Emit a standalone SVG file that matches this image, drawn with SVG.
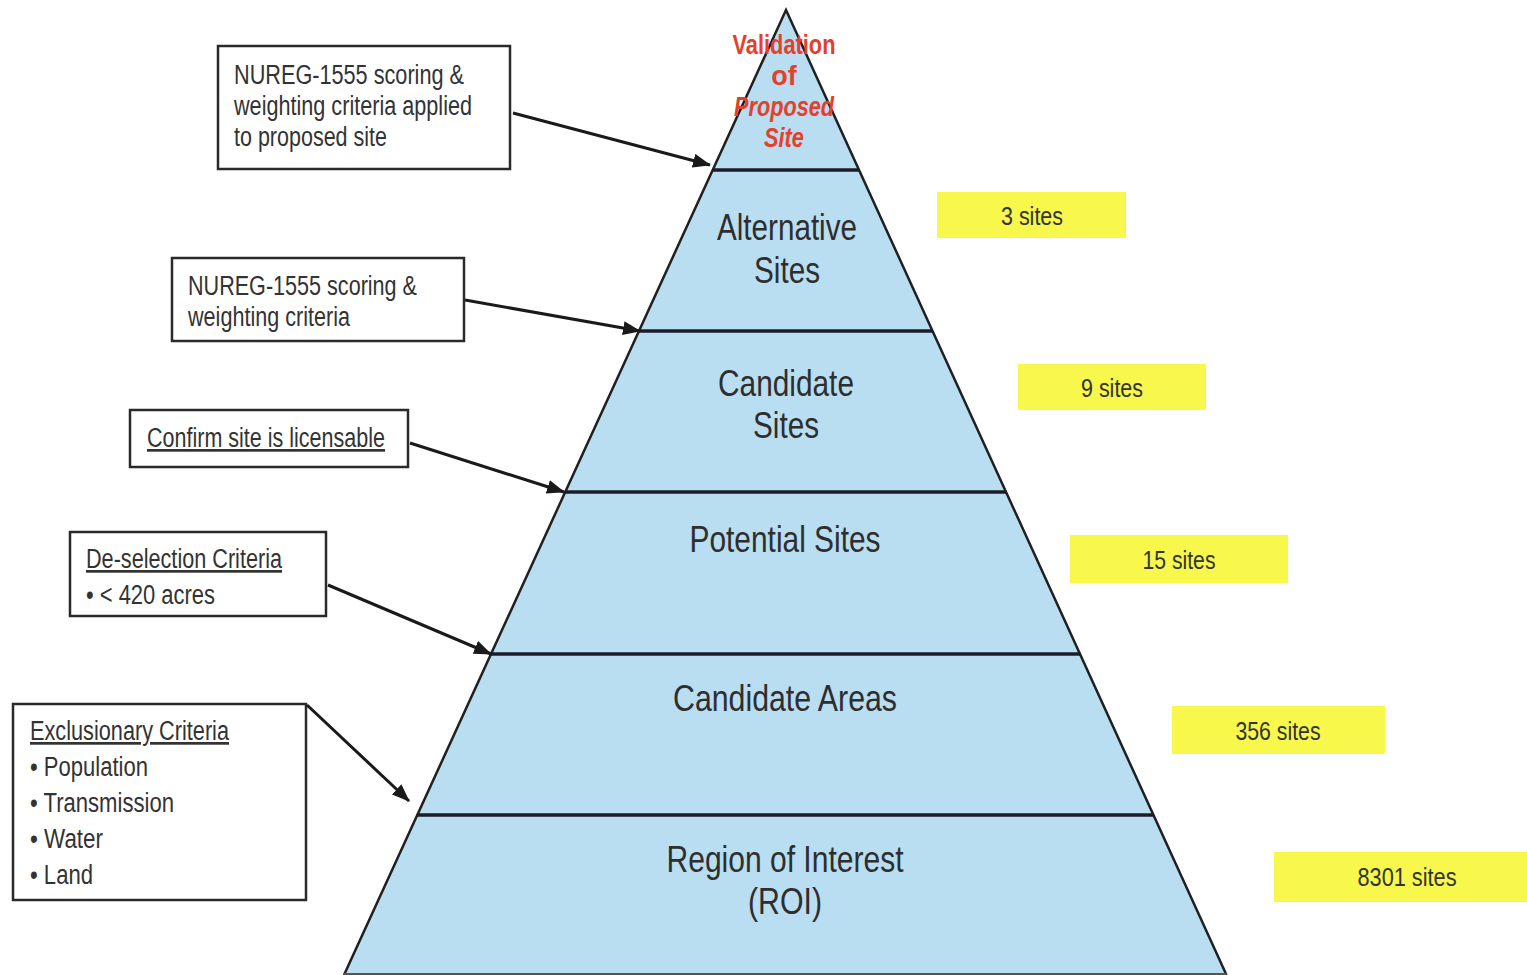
<svg xmlns="http://www.w3.org/2000/svg" width="1527" height="975" viewBox="0 0 1527 975">
<defs>
<marker id="ah" markerWidth="18" markerHeight="14" refX="17" refY="7" orient="auto" markerUnits="userSpaceOnUse">
<path d="M0,0 L18,7 L0,14 Z" fill="#1a1a1a"/>
</marker>
<style>
.box{fill:#fff;stroke:#2a2a2a;stroke-width:2.5}
.t{font-family:"Liberation Sans",Arial,sans-serif;font-size:27px;fill:#333}
.u{text-decoration:underline}
.tier{fill:#b9ddf1;stroke:none}
.pl{font-family:"Liberation Sans",Arial,sans-serif;font-size:36px;fill:#2e2e2e;text-anchor:middle}
.red{font-family:"Liberation Sans",Arial,sans-serif;font-size:27px;font-weight:bold;fill:#e4402c;text-anchor:middle}
.yl{fill:#f7f74c}
.yt{font-family:"Liberation Sans",Arial,sans-serif;font-size:25px;fill:#333;text-anchor:middle}
.side{stroke:#202020;stroke-width:2.5;fill:none}
.div{stroke:#1c1c28;stroke-width:3.5}
.conn{stroke:#1a1a1a;stroke-width:3;fill:none;marker-end:url(#ah)}
</style>
</defs>
<rect width="1527" height="975" fill="#fff"/>

<g id="pyramid">
<g id="tier-validation">
<polygon class="tier" points="786,10 712.6,170 859.1,170"/>
</g>
<g id="tier-alternative">
<polygon class="tier" points="712.6,170 859.1,170 932.7,331 638.8,331"/>
<text class="pl" x="787" y="240" textLength="140" lengthAdjust="spacingAndGlyphs">Alternative</text>
<text class="pl" x="787" y="283" textLength="66" lengthAdjust="spacingAndGlyphs">Sites</text>
</g>
<g id="tier-candidate-sites">
<polygon class="tier" points="638.8,331 932.7,331 1006.3,492 565,492"/>
<text class="pl" x="786" y="396" textLength="136" lengthAdjust="spacingAndGlyphs">Candidate</text>
<text class="pl" x="786" y="438" textLength="66" lengthAdjust="spacingAndGlyphs">Sites</text>
</g>
<g id="tier-potential">
<polygon class="tier" points="565,492 1006.3,492 1080.3,654 490.7,654"/>
<text class="pl" x="785" y="552" textLength="191" lengthAdjust="spacingAndGlyphs">Potential Sites</text>
</g>
<g id="tier-candidate-areas">
<polygon class="tier" points="490.7,654 1080.3,654 1153.9,815 416.9,815"/>
<text class="pl" x="785" y="711" textLength="224" lengthAdjust="spacingAndGlyphs">Candidate Areas</text>
</g>
<g id="tier-roi">
<polygon class="tier" points="416.9,815 1153.9,815 1226.5,975 344,975"/>
<text class="pl" x="785" y="872" textLength="237" lengthAdjust="spacingAndGlyphs">Region of Interest</text>
<text class="pl" x="785" y="914" textLength="74" lengthAdjust="spacingAndGlyphs">(ROI)</text>
</g>
<polyline class="side" points="344,975 786,10 1226.5,975"/>
<line class="div" x1="712.6" y1="170" x2="859.1" y2="170"/>
<line class="div" x1="638.8" y1="331" x2="932.7" y2="331"/>
<line class="div" x1="565" y1="492" x2="1006.3" y2="492"/>
<line class="div" x1="490.7" y1="654" x2="1080.3" y2="654"/>
<line class="div" x1="416.9" y1="815" x2="1153.9" y2="815"/>
<line stroke="#555" stroke-width="2" x1="344" y1="974" x2="1226.5" y2="974"/>
<g id="validation-label">
<text class="red" x="784" y="54" textLength="103" lengthAdjust="spacingAndGlyphs">Validation</text>
<text class="red" x="784" y="85">of</text>
<text class="red" x="784" y="116" font-style="italic" textLength="100" lengthAdjust="spacingAndGlyphs">Proposed</text>
<text class="red" x="784" y="147" font-style="italic" textLength="40" lengthAdjust="spacingAndGlyphs">Site</text>
</g>
</g>

<g id="box-nureg-applied">
<rect class="box" x="218" y="46" width="292" height="123"/>
<text class="t" x="234" y="84" textLength="230" lengthAdjust="spacingAndGlyphs">NUREG-1555 scoring &amp;</text>
<text class="t" x="234" y="115" textLength="238" lengthAdjust="spacingAndGlyphs">weighting criteria applied</text>
<text class="t" x="234" y="146" textLength="153" lengthAdjust="spacingAndGlyphs">to proposed site</text>
</g>
<g id="box-nureg">
<rect class="box" x="172" y="258" width="292" height="83"/>
<text class="t" x="188" y="295" textLength="229" lengthAdjust="spacingAndGlyphs">NUREG-1555 scoring &amp;</text>
<text class="t" x="188" y="326" textLength="162" lengthAdjust="spacingAndGlyphs">weighting criteria</text>
</g>
<g id="box-licensable">
<rect class="box" x="130" y="410" width="278" height="57"/>
<text class="t u" x="147" y="447" textLength="238" lengthAdjust="spacingAndGlyphs">Confirm site is licensable</text>
</g>
<g id="box-deselection">
<rect class="box" x="70" y="532" width="256" height="84"/>
<text class="t u" x="86" y="568" textLength="196" lengthAdjust="spacingAndGlyphs">De-selection Criteria</text>
<text class="t" x="86" y="604" textLength="129" lengthAdjust="spacingAndGlyphs">• &lt; 420 acres</text>
</g>
<g id="box-exclusionary">
<rect class="box" x="13" y="704" width="293" height="196"/>
<text class="t u" x="30" y="740" textLength="199" lengthAdjust="spacingAndGlyphs">Exclusionary Criteria</text>
<text class="t" x="30" y="776" textLength="118" lengthAdjust="spacingAndGlyphs">• Population</text>
<text class="t" x="30" y="812" textLength="144" lengthAdjust="spacingAndGlyphs">• Transmission</text>
<text class="t" x="30" y="848" textLength="73" lengthAdjust="spacingAndGlyphs">• Water</text>
<text class="t" x="30" y="884" textLength="63" lengthAdjust="spacingAndGlyphs">• Land</text>
</g>

<g id="count-3">
<rect class="yl" x="937" y="192" width="189" height="46"/>
<text class="yt" x="1032" y="225" textLength="62" lengthAdjust="spacingAndGlyphs">3 sites</text>
</g>
<g id="count-9">
<rect class="yl" x="1018" y="364" width="188" height="46"/>
<text class="yt" x="1112" y="397" textLength="62" lengthAdjust="spacingAndGlyphs">9 sites</text>
</g>
<g id="count-15">
<rect class="yl" x="1070" y="535" width="218" height="48"/>
<text class="yt" x="1179" y="569" textLength="73" lengthAdjust="spacingAndGlyphs">15 sites</text>
</g>
<g id="count-356">
<rect class="yl" x="1172" y="706" width="213" height="48"/>
<text class="yt" x="1278" y="740" textLength="85" lengthAdjust="spacingAndGlyphs">356 sites</text>
</g>
<g id="count-8301">
<rect class="yl" x="1274" y="852" width="253" height="50"/>
<text class="yt" x="1407" y="886" textLength="99" lengthAdjust="spacingAndGlyphs">8301 sites</text>
</g>

<g id="connectors">
<line class="conn" x1="513" y1="113" x2="710" y2="165"/>
<line class="conn" x1="465" y1="300" x2="640" y2="331"/>
<line class="conn" x1="410" y1="443" x2="564" y2="492"/>
<line class="conn" x1="328" y1="585" x2="491" y2="654"/>
<line class="conn" x1="307" y1="705" x2="409" y2="801"/>
</g>
</svg>
